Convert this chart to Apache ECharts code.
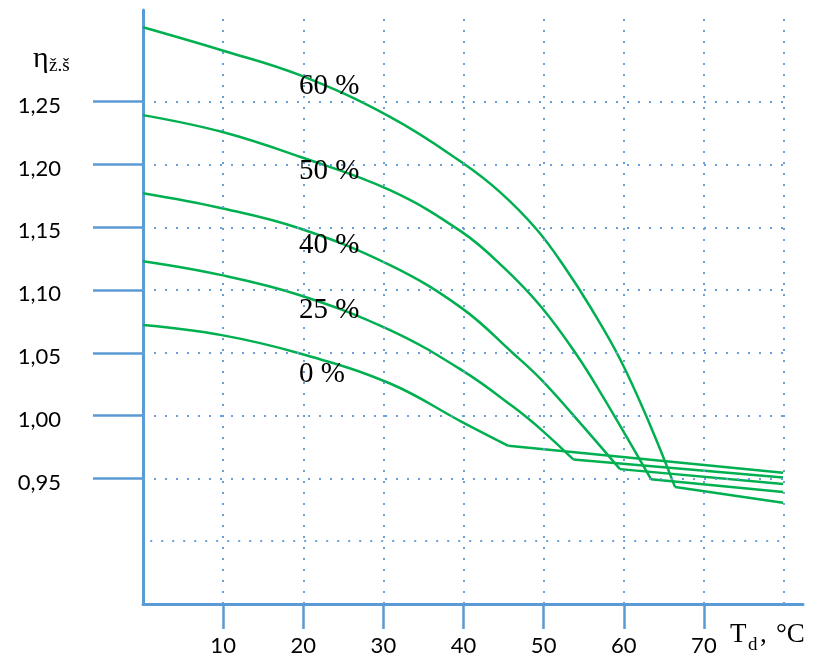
<!DOCTYPE html>
<html>
<head>
<meta charset="utf-8">
<script src="https://cdn.jsdelivr.net/npm/echarts@6/dist/echarts.min.js"></script>
<style>html,body{margin:0;padding:0;background:#fff;}#c{width:813px;height:657px;}</style>
</head>
<body>
<div id="c"></div>
<script>
// Tick labels / grid values
const xTicks = [10, 20, 30, 40, 50, 60, 70];
const xGrid = [10, 20, 30, 40, 50, 60, 70, 80];
const yTicks = [0.95, 1.00, 1.05, 1.10, 1.15, 1.20, 1.25];
const yGrid = [0.90, 0.95, 1.00, 1.05, 1.10, 1.15, 1.20, 1.25];
const curveNames = ['0 %', '25 %', '40 %', '50 %', '60 %'];

// Curved parts [T, eta]
const eta0 = [[0,1.0721],[9.82,1.0641],[19.59,1.0495],[30.83,1.0256],[39.78,0.9951],[45.59,0.9760]];
const eta25 = [[0,1.1230],[9.82,1.1119],[19.59,1.0959],[30.83,1.0681],[39.78,1.0362],[46.21,1.0070],[49.76,0.9885],[53.70,0.9651]];
const eta40 = [[0,1.1771],[9.82,1.1652],[19.59,1.1490],[30.83,1.1198],[39.78,1.0856],[46.21,1.0495],[49.76,1.0283],[53.70,1.0004],[59.53,0.9574]];
const eta50 = [[0,1.2393],[9.82,1.2260],[19.59,1.2061],[30.83,1.1795],[39.78,1.1463],[44.97,1.1182],[49.76,1.0861],[54.16,1.0481],[57.41,1.0150],[60.41,0.9825],[63.40,0.9494]];
const eta60 = [[0,1.3093],[9.82,1.2910],[19.59,1.2711],[30.83,1.2379],[39.78,1.2018],[44.56,1.1780],[49.14,1.1482],[52.67,1.1178],[55.79,1.0869],[59.53,1.0451],[63.28,0.9926],[66.40,0.9431]];
// Straight tails [T, eta]
const tail0 = [[45.59,0.9760],[79.88,0.9545]];
const tail25 = [[53.70,0.9651],[79.88,0.9508]];
const tail40 = [[59.53,0.9574],[79.88,0.9455]];
const tail50 = [[63.40,0.9494],[79.88,0.9391]];
const tail60 = [[66.40,0.9431],[79.88,0.9306]];

const curves = [eta0, eta25, eta40, eta50, eta60];
const tails = [tail0, tail25, tail40, tail50, tail60];

const blue = '#5B9BD5';
const green = '#00B050';
const fmt = v => Number(v).toFixed(2).replace('.', ',');

const gridLineStyle = {type: [2, 9], width: 2, color: '#6A9FD8', cap: 'butt'};
const gridLines = [];
xGrid.forEach(x => gridLines.push([{coord: [x, 0.85]}, {coord: [x, 1.3166]}]));
yGrid.forEach(v => gridLines.push([{coord: [v < 0.94 ? 0.9 : 0, v]}, {coord: [79.9, v]}]));

const series = [{
  type: 'line', data: [], silent: true, z: 1,
  markLine: {silent: true, symbol: ['none', 'none'], label: {show: false},
    lineStyle: gridLineStyle, animation: false, data: gridLines}
}];
curves.forEach((c, i) => {
  series.push({type: 'line', name: curveNames[i], data: c, smooth: 0.4, showSymbol: false, symbol: 'none',
    lineStyle: {color: green, width: 2.5}, z: 3, animation: false});
  series.push({type: 'line', name: curveNames[i] + ' tail', data: tails[i], smooth: false, showSymbol: false, symbol: 'none',
    lineStyle: {color: green, width: 2.5}, z: 3, animation: false});
});

const labelYs = [374.5, 310, 245, 171, 86];
const serif = '"Liberation Serif", "Times New Roman", serif';
const graphics = curveNames.map((n, i) => ({
  type: 'text', x: 299, y: labelYs[i], z: 10,
  style: {text: n, font: '29px ' + serif, fill: '#000', verticalAlign: 'middle', align: 'left'}
}));
graphics.push({type: 'text', x: 33, y: 59, style: {text: 'η', font: '30px ' + serif, fill: '#000', verticalAlign: 'middle'}});
graphics.push({type: 'text', x: 49, y: 66.5, style: {text: 'ž.š', font: '19px ' + serif, fill: '#000', verticalAlign: 'middle'}});
graphics.push({type: 'text', x: 730, y: 634.5, style: {text: 'T', font: '27px ' + serif, fill: '#000', verticalAlign: 'middle'}});
graphics.push({type: 'text', x: 748, y: 645, style: {text: 'd', font: '19px ' + serif, fill: '#000', verticalAlign: 'middle'}});
graphics.push({type: 'text', x: 760, y: 635, style: {text: ',', font: '27px ' + serif, fill: '#000', verticalAlign: 'middle'}});
graphics.push({type: 'text', x: 776, y: 635, style: {text: '°C', font: '27px ' + serif, fill: '#000', verticalAlign: 'middle'}});

const chart = echarts.init(document.getElementById('c'), null, {renderer: 'canvas'});
chart.setOption({
  animation: false,
  backgroundColor: '#fff',
  grid: {left: 143, right: 10, top: 10, bottom: 53, containLabel: false, outerBoundsMode: 'none'},
  xAxis: {
    type: 'value', min: 0, max: 82.37,
    axisLine: {show: true, onZero: false, lineStyle: {color: blue, width: 3}},
    axisTick: {show: true, length: 25, customValues: xTicks, lineStyle: {color: blue, width: 2.5}},
    axisLabel: {show: true, customValues: xTicks, margin: 31, color: '#000', fontFamily: 'Lato', fontSize: 22},
    splitLine: {show: false}
  },
  yAxis: {
    type: 'value', min: 0.85, max: 1.323,
    axisLine: {show: true, onZero: false, lineStyle: {color: blue, width: 3}},
    axisTick: {show: true, length: 50, customValues: yTicks, lineStyle: {color: blue, width: 2.5}},
    axisLabel: {show: true, customValues: yTicks, margin: 82, color: '#000', fontFamily: 'Lato', fontSize: 22,
      formatter: fmt, verticalAlign: 'top', lineHeight: 8},
    splitLine: {show: false}
  },
  graphic: graphics,
  series: series
});
</script>
</body>
</html>
